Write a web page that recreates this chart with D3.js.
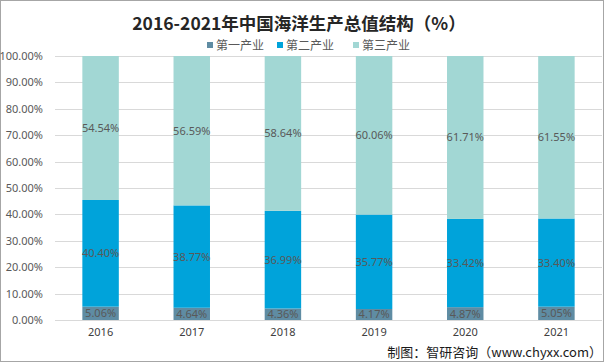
<!DOCTYPE html>
<html><head><meta charset="utf-8">
<script src="https://cdn.jsdelivr.net/npm/d3@7"></script>
<style>
html,body{margin:0;padding:0;background:#fff;}
svg{display:block;font-family:"Noto Sans CJK SC","Noto Sans",sans-serif;}
</style></head>
<body>
<svg id="c" width="605" height="364"></svg>
<script>
const years = ["2016","2017","2018","2019","2020","2021"];
const primary = [5.06, 4.64, 4.36, 4.17, 4.87, 5.05];
const secondary = [40.40, 38.77, 36.99, 35.77, 33.42, 33.40];
const tertiary = [54.54, 56.59, 58.64, 60.06, 61.71, 61.55];
const seriesNames = ["第一产业","第二产业","第三产业"];
const yTicks = [0,10,20,30,40,50,60,70,80,90,100];
const titleText = "2016-2021年中国海洋生产总值结构（%）";
const sourceText = "制图：智研咨询（www.chyxx.com）";

const colors = ["#5f8ca3","#00a3da","#a2d7d4"];
const svg = d3.select("#c");

// border
svg.append("rect").attr("x",0.5).attr("y",0.5).attr("width",603).attr("height",361)
  .attr("fill","#fff").attr("stroke","#a6a6a6").attr("stroke-width",1);

const x = d3.scaleBand().domain(years).range([55,602]).paddingInner(0.6).paddingOuter(0.3);
const y = d3.scaleLinear().domain([0,100]).range([320,56]);

// grid
svg.append("g").selectAll("line").data(yTicks).join("line")
  .attr("x1",55).attr("x2",602)
  .attr("y1",d=>Math.round(y(d))+0.5).attr("y2",d=>Math.round(y(d))+0.5)
  .attr("stroke","#d9d9d9").attr("stroke-width",1);

// y labels
const yAxis = d3.axisLeft(y).tickValues(yTicks).tickFormat(d=>d.toFixed(2)+"%").tickSize(0).tickPadding(0);
const ya = svg.append("g").attr("transform","translate(43,0)").call(yAxis);
ya.select(".domain").remove();
ya.selectAll("text").attr("font-size",11).attr("fill","#595959")
  .attr("font-family","'Noto Sans','DejaVu Sans',sans-serif");

// x labels
const xAxis = d3.axisBottom(x).tickSize(0).tickPadding(0);
const xa = svg.append("g").attr("transform","translate(0,328)").call(xAxis);
xa.select(".domain").remove();
xa.selectAll("text").attr("font-size",11).attr("fill","#404040")
  .attr("font-family","'Noto Sans','DejaVu Sans',sans-serif");

// stack
const rows = years.map((yr,i)=>({year:yr, s0:primary[i], s1:secondary[i], s2:tertiary[i]}));
const stack = d3.stack().keys(["s0","s1","s2"])(rows);

const g = svg.append("g");
stack.forEach((layer,li)=>{
  g.append("g").selectAll("rect").data(layer).join("rect")
    .attr("x",d=>x(d.data.year))
    .attr("width",x.bandwidth())
    .attr("y",d=>y(d[1]))
    .attr("height",d=>y(d[0])-y(d[1]))
    .attr("fill",colors[li]);
});
stack.forEach((layer,li)=>{
  g.append("g").selectAll("text").data(layer).join("text")
    .attr("x",d=>x(d.data.year)+x.bandwidth()/2)
    .attr("y",d=>(y(d[0])+y(d[1]))/2)
    .attr("dy","0.36em")
    .attr("text-anchor","middle")
    .attr("font-size",11).attr("fill","#595959")
    .attr("font-family","'Noto Sans','DejaVu Sans',sans-serif")
    .text(d=>(d[1]-d[0]).toFixed(2)+"%");
});

// title
svg.append("text").attr("x",299).attr("y",29.5).attr("text-anchor","middle")
  .attr("font-size",17.5).attr("font-weight","bold").attr("fill","#262626")
  .text(titleText);

// legend
const legX = [207,277,353];
const leg = svg.append("g");
seriesNames.forEach((n,i)=>{
  leg.append("rect").attr("x",legX[i]).attr("y",42).attr("width",6).attr("height",6).attr("fill",colors[i]);
  leg.append("text").attr("x",legX[i]+9).attr("y",45).attr("dy","0.38em")
    .attr("font-size",12).attr("fill","#595959").text(n);
});

// source
svg.append("text").attr("x",602).attr("y",357).attr("text-anchor","end")
  .attr("font-size",13).attr("fill","#1a1a1a").text(sourceText);
</script>
</body></html>
